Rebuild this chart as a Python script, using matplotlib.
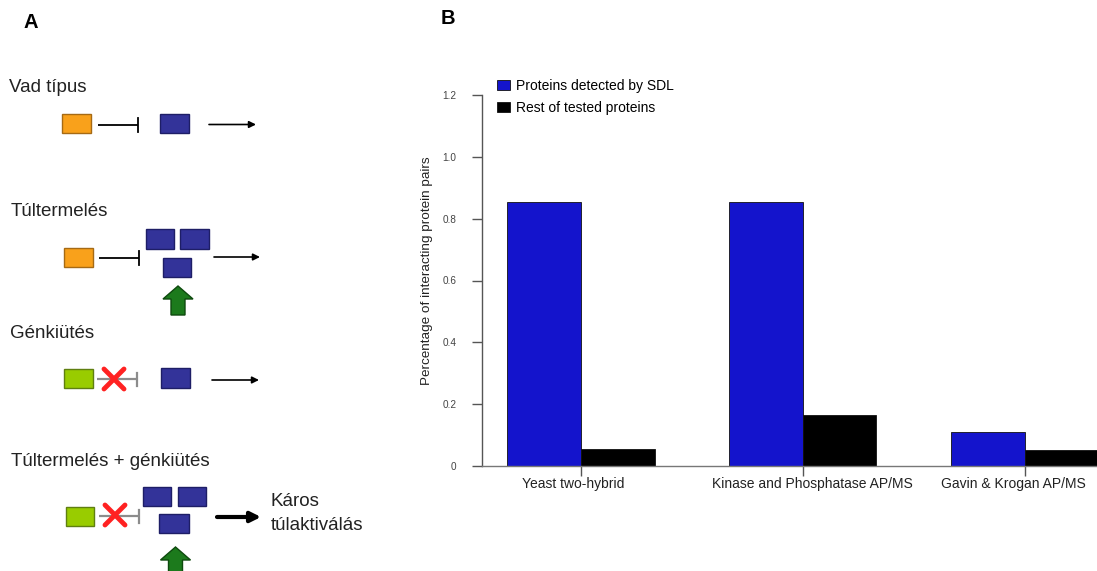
import matplotlib
matplotlib.use('Agg')
import matplotlib.pyplot as plt
import matplotlib.transforms as mtransforms
from matplotlib.patches import Rectangle, Polygon
import numpy as np

plt.rcParams['font.family'] = ['Liberation Sans', 'DejaVu Sans']

# data for panel B
categories = ['Yeast two-hybrid', 'Kinase and Phosphatase AP/MS', 'Gavin & Krogan AP/MS']
sdl_vals = [0.855, 0.855, 0.109]
rest_vals = [0.055, 0.165, 0.051]
series_names = ['Proteins detected by SDL', 'Rest of tested proteins']
yticks = [0, 0.2, 0.4, 0.6, 0.8, 1.0, 1.2]
ytick_labels = ['0', '0.2', '0.4', '0.6', '0.8', '1.0', '1.2']

W, H = 1097, 571
fig = plt.figure(figsize=(W / 100, H / 100), dpi=100)

# ---- panel A: schematic, drawn in pixel coords ----
axa = fig.add_axes([0, 0, 1, 1])
axa.set_xlim(0, W)
axa.set_ylim(H, 0)
axa.axis('off')

ORANGE, ORANGE_E = '#F9A11B', '#A66A14'
BLUE, BLUE_E = '#333399', '#1E1E66'
LIME, LIME_E = '#99CC00', '#5F7F10'
GREEN, GREEN_E = '#1C7A1C', '#0E4A0E'


def box(x0, y0, x1, y1, fc, ec):
    axa.add_patch(Rectangle((x0, y0), x1 - x0, y1 - y0, facecolor=fc,
                            edgecolor=ec, lw=1.0))


def inhib(x0, x1, y, h, color='black', lw=1.3):
    axa.plot([x0, x1], [y, y], color=color, lw=lw, solid_capstyle='butt')
    axa.plot([x1, x1], [y - h / 2, y + h / 2], color=color, lw=lw)


def arrow(x0, x1, y, lw=1.2, ms=10):
    axa.annotate('', xy=(x1, y), xytext=(x0, y),
                 arrowprops=dict(arrowstyle='-|>', lw=lw, color='black',
                                 mutation_scale=ms, shrinkA=0, shrinkB=0))


def cross(cx, cy, s=10):
    axa.plot([cx - s, cx + s], [cy - s, cy + s], color='#FF2222', lw=3.5,
             solid_capstyle='round')
    axa.plot([cx - s, cx + s], [cy + s, cy - s], color='#FF2222', lw=3.5,
             solid_capstyle='round')


def up_arrow(cx, ytop, ybot):
    pts = [(cx, ytop), (cx + 15, ytop + 13), (cx + 7, ytop + 13),
           (cx + 7, ybot), (cx - 7, ybot), (cx - 7, ytop + 13),
           (cx - 15, ytop + 13)]
    axa.add_patch(Polygon(pts, closed=True, facecolor=GREEN, edgecolor=GREEN_E,
                          lw=1.0))


tfs = 13.5
tcol = '#222222'
fig.text(31 / W, 1 - 22 / H, 'A', fontsize=14.5, fontweight='bold',
         ha='center', va='center')
fig.text(448 / W, 1 - 19 / H, 'B', fontsize=14.5, fontweight='bold',
         ha='center', va='center')

# Vad tipus
axa.text(9, 87, 'Vad típus', fontsize=tfs, va='center', ha='left', color=tcol)
box(62, 114, 91, 133, ORANGE, ORANGE_E)
inhib(98, 138, 124.5, 14)
box(160, 114, 189, 133, BLUE, BLUE_E)
arrow(209, 256, 124.5)

# Tultermeles
axa.text(11, 211, 'Túltermelés', fontsize=tfs, va='center', ha='left', color=tcol)
box(64, 248, 93, 267, ORANGE, ORANGE_E)
inhib(99, 139, 258, 14)
box(146, 229, 174, 249, BLUE, BLUE_E)
box(180, 229, 209, 249, BLUE, BLUE_E)
box(163, 258, 191, 277, BLUE, BLUE_E)
arrow(214, 260, 257)
up_arrow(178, 286, 315)

# Genkiutes
axa.text(10, 334, 'Génkiütés', fontsize=tfs, va='center', ha='left', color=tcol)
box(64, 369, 93, 388, LIME, LIME_E)
inhib(97, 137, 379, 13, color='#8C8C8C', lw=1.6)
cross(114, 379)
box(161, 368, 190, 388, BLUE, BLUE_E)
arrow(212, 259, 380)

# Tultermeles + genkiutes
axa.text(11, 461, 'Túltermelés + génkiütés', fontsize=tfs, va='center',
         ha='left', color=tcol)
box(66, 507, 94, 526, LIME, LIME_E)
inhib(99, 139, 516, 13, color='#8C8C8C', lw=1.6)
cross(115, 515)
box(143, 487, 171, 506, BLUE, BLUE_E)
box(178, 487, 206, 506, BLUE, BLUE_E)
box(159, 514, 189, 533, BLUE, BLUE_E)
arrow(217, 261, 517, lw=3, ms=15)
axa.text(271, 502, 'Káros', fontsize=tfs, va='center', ha='left', color=tcol)
axa.text(271, 525, 'túlaktiválás', fontsize=tfs, va='center', ha='left',
         color=tcol)
up_arrow(175.5, 547, 575)

# ---- panel B: bar chart ----
ax_left, ax_right = 482, 1097
y0_px, ytop_px, y12_px = 466, 75, 95
ax = fig.add_axes([ax_left / W, 1 - y0_px / H, (ax_right - ax_left) / W,
                   (y0_px - ytop_px) / H])

x = np.arange(1, len(categories) + 1)
bw = 1 / 3
b1 = ax.bar(x - bw / 2, sdl_vals, bw, color='#1414CC', edgecolor='#111111',
            lw=0.6, label=series_names[0])
b2 = ax.bar(x + bw / 2, rest_vals, bw, color='black', edgecolor='#111111',
            lw=0.6, label=series_names[1])

px_per_unit = (y0_px - y12_px) / 1.2
ax.set_ylim(0, 1.2 + (y12_px - ytop_px) / px_per_unit)
px_per_x = 222
ax.set_xlim(1 - (580.5 - ax_left) / px_per_x, 1 + (ax_right - 580.5) / px_per_x)

for s in ['top', 'right']:
    ax.spines[s].set_visible(False)
ax.spines['left'].set_bounds(0, 1.2)
ax.spines['left'].set_color('#555555')
ax.spines['bottom'].set_color('#777777')
ax.spines['left'].set_linewidth(1.0)
ax.spines['bottom'].set_linewidth(1.0)

ax.set_yticks(yticks)
ax.set_yticklabels(ytick_labels)
ax.tick_params(axis='y', direction='out', length=7.2, width=1.0,
               color='#555555', labelcolor='#444444', labelsize=7.2, pad=11)
ax.set_xticks(x)
ax.set_xticklabels(categories)
ax.tick_params(axis='x', direction='out', length=7.2, width=1.0,
               color='#555555', labelcolor='#222222', labelsize=10, pad=1)
# the labels in the original sit a little off their ticks
for lab, dx in zip(ax.get_xticklabels(), [-7, 10, -11]):
    lab.set_transform(lab.get_transform() +
                      mtransforms.ScaledTranslation(dx / 100, 0, fig.dpi_scale_trans))

ax.set_ylabel('Percentage of interacting protein pairs', fontsize=9.7,
              color='#222222')
ax.yaxis.set_label_coords(-0.08, 0.5)

ax.legend(loc='upper left', bbox_to_anchor=(497 / W, 1 - 79 / H),
          bbox_transform=fig.transFigure, frameon=False, fontsize=10,
          handlelength=0.95, handleheight=0.8, handletextpad=0.42,
          labelspacing=0.55, borderpad=0, borderaxespad=0)

fig.savefig('out.png', dpi=100)
